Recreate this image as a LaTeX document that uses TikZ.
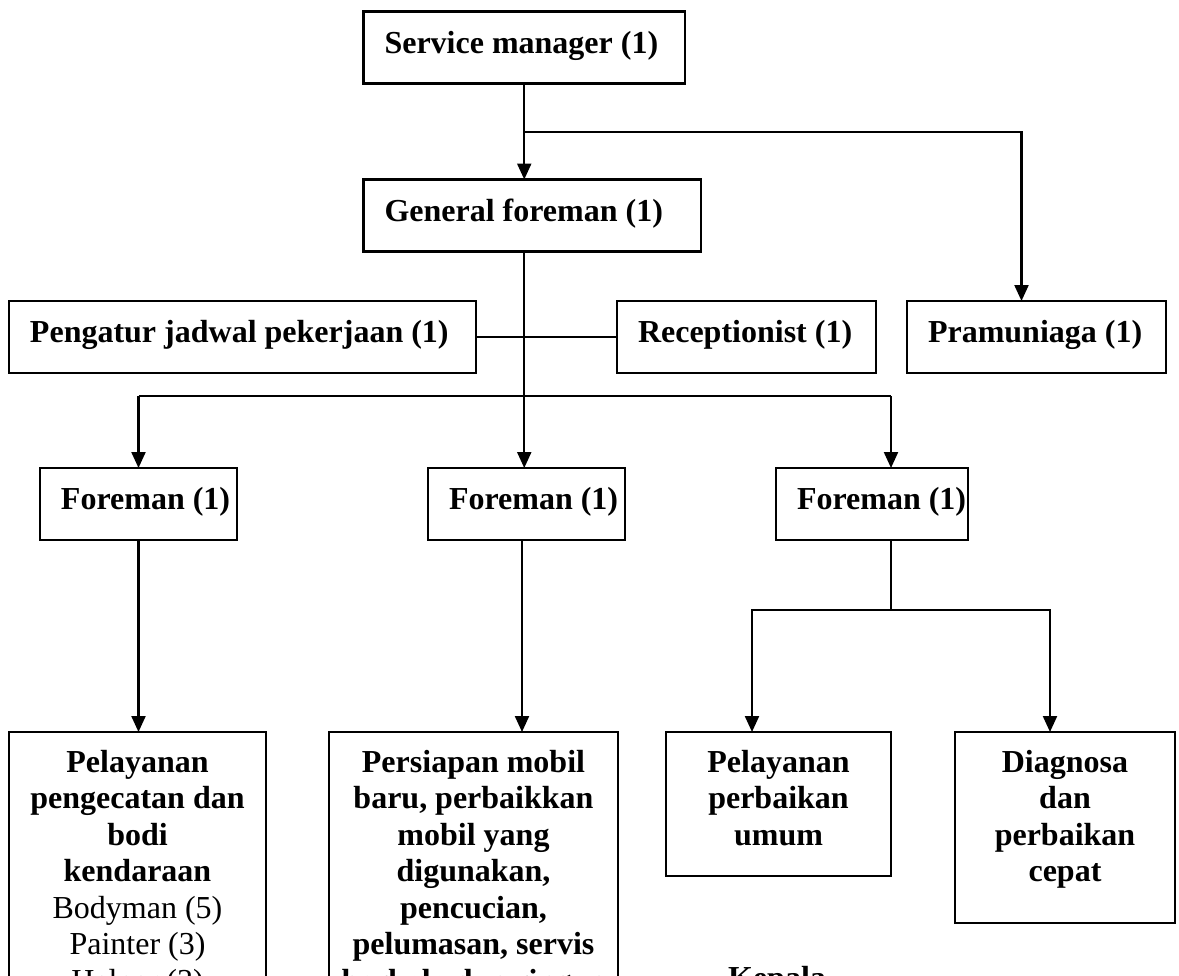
\documentclass[tikz,border=0pt]{standalone}
\usepackage{fontspec}
\setmainfont{Liberation Serif}
\usetikzlibrary{arrows.meta,calc}
% left-set a label inside a box of fixed width
\newcommand{\leftset}[2]{\makebox[#1][l]{#2}}
\begin{document}
\begin{tikzpicture}[x=1bp,y=-1bp,
  chartfont/.style={font=\bfseries\fontsize{32bp}{36.5bp}\selectfont},
  unit/.style={draw, line width=2.4bp, chartfont, inner xsep=21bp, inner ysep=0pt,
    outer sep=0pt, minimum height=72bp, text height=21bp, text depth=9.5bp},
  frame/.style={draw, line width=2.4bp, inner sep=0pt, outer sep=0pt, anchor=north},
  caption/.style={chartfont, align=center, inner sep=0pt, anchor=north},
  link/.style={line width=2.2bp},
  flow/.style={link, -{Triangle[width=14bp,length=16bp]}}]

\useasboundingbox (0,0) rectangle (1179,976);
\fill[white] (0,0) rectangle (1179,976);
\clip (0,0) rectangle (1179,976);

% management level
\node[unit] (sm) at (524.25,47.5)  {\leftset{279.5bp}{Service manager (1)}};
\node[unit] (gf) at (532.25,215.5) {\leftset{295.5bp}{General foreman (1)}};

% staff level
\node[unit] (pj) at (242.5,337)  {\leftset{425bp}{Pengatur jadwal pekerjaan (1)}};
\node[unit] (rc) at (746.5,337)  {\leftset{217bp}{Receptionist (1)}};
\node[unit] (pr) at (1036.5,337) {\leftset{217bp}{Pramuniaga (1)}};

% foremen
\node[unit] (fl) at (138.5,504) {\leftset{155bp}{Foreman (1)}};
\node[unit] (fm) at (526.5,504) {\leftset{155bp}{Foreman (1)}};
\node[unit] (fr) at (872,504)   {\leftset{150bp}{Foreman (1)}};

% work groups
\node[frame, minimum width=257bp, minimum height=300bp] (bl) at (137.5,732) {};
\node[frame, minimum width=289bp, minimum height=300bp] (bm) at (473.5,732) {};
\node[frame, minimum width=225bp, minimum height=144bp] (pu) at (778.5,732) {};
\node[frame, minimum width=220bp, minimum height=191bp] (dg) at (1065,732) {};

\node[caption] (bl-t) at ($(bl.north)+(0,18)$)
  {Pelayanan\\pengecatan dan\\bodi\\kendaraan\\\textmd{Bodyman (5)}\\\textmd{Painter (3)}\\\textmd{Helper (3)}};
\node[caption] (bm-t) at ($(bm.north)+(0,18)$)
  {Persiapan mobil\\baru, perbaikkan\\mobil yang\\digunakan,\\pencucian,\\pelumasan, servis\\berkala dan ringan};
\node[caption] (pu-t) at ($(pu.north)+(0,18)$) {Pelayanan\\perbaikan\\umum};
\node[caption] (dg-t) at ($(dg.north)+(0,18)$) {Diagnosa\\dan\\perbaikan\\cepat};

\node[chartfont, anchor=base, inner sep=0pt] (kp) at (777,988) {Kepala};

% connectors
\coordinate (fork)  at (524.25,131.7);
\coordinate (pr-in) at (1021.5,131.7);
\coordinate (bar)   at (524.25,396);
\coordinate (fr-in) at (891,396);
\coordinate (rsplit) at (891,610);
\coordinate (rl) at (752,610);
\coordinate (rr) at (1050,610);

\draw[flow] (sm.south) -- (sm.south |- gf.north);
\draw[flow] (fork) -- (pr-in) -- (pr-in |- pr.north);
\draw[link] (gf.south -| sm.south) -- (bar);
\draw[link] (pj.east) -- (rc.west);

\draw[link] (bar -| fl.north) -- (fr-in);
\draw[flow] (bar -| fl.north) -- (fl.north);
\draw[flow] (bar) -- (bar |- fm.north);
\draw[flow] (fr-in) -- (fr-in |- fr.north);

\draw[flow] (fl.south) -- (fl.south |- bl.north);
\coordinate (fm-out) at ($(fm.south)+(-4.5,0)$);
\draw[flow] (fm-out) -- (fm-out |- bm.north);

\draw[link] (rsplit |- fr.south) -- (rsplit);
\draw[flow] (rsplit) -- (rl) -- (rl |- pu.north);
\draw[flow] (rsplit) -- (rr) -- (rr |- dg.north);
\end{tikzpicture}
\end{document}
